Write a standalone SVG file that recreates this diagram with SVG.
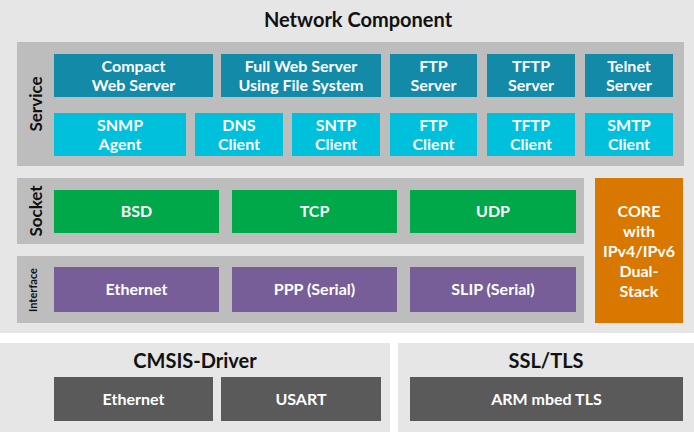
<svg xmlns="http://www.w3.org/2000/svg" width="694" height="432" viewBox="0 0 694 432">
<style>
text{font-family:Lato,"Open Sans",sans-serif;font-weight:bold;text-anchor:middle}
.w{fill:#fff;font-size:16px}
.h{fill:#111;font-size:20px}
.lab{fill:#111;font-size:17px}
.band{fill:#bdbdbd}
.dt{fill:#138aa8}.lt{fill:#00c0dc}.gr{fill:#00a84a}.pu{fill:#775e98}.dg{fill:#5a5a5a}
</style>
<rect width="694" height="432" fill="#fff"/>
<rect x="0" y="0" width="694" height="333" fill="#e6e6e6"/>
<rect x="0" y="343" width="390" height="89" fill="#e6e6e6"/>
<rect x="398" y="343" width="296" height="89" fill="#e6e6e6"/>
<text class="h" x="358" y="27">Network Component</text>
<g id="service">
<rect class="band" x="17" y="42" width="667" height="124"/>
<text class="lab" transform="translate(42,104) rotate(-90)">Service</text>
</g>
<g id="compact"><rect class="dt" x="54" y="54" width="159" height="43"/><text class="w" x="133.5" y="72">Compact</text><text class="w" x="133.5" y="91">Web Server</text></g>
<g id="fullweb"><rect class="dt" x="221" y="54" width="160" height="43"/><text class="w" x="301" y="72">Full Web Server</text><text class="w" x="301" y="91">Using File System</text></g>
<g id="ftpserver"><rect class="dt" x="390" y="54" width="87" height="43"/><text class="w" x="433.5" y="72">FTP</text><text class="w" x="433.5" y="91">Server</text></g>
<g id="tftpserver"><rect class="dt" x="487" y="54" width="88" height="43"/><text class="w" x="531" y="72">TFTP</text><text class="w" x="531" y="91">Server</text></g>
<g id="telnet"><rect class="dt" x="585" y="54" width="88" height="43"/><text class="w" x="629" y="72">Telnet</text><text class="w" x="629" y="91">Server</text></g>
<g id="snmp"><rect class="lt" x="54" y="113" width="132" height="43"/><text class="w" x="120" y="131">SNMP</text><text class="w" x="120" y="150">Agent</text></g>
<g id="dns"><rect class="lt" x="195" y="113" width="88" height="43"/><text class="w" x="239" y="131">DNS</text><text class="w" x="239" y="150">Client</text></g>
<g id="sntp"><rect class="lt" x="292" y="113" width="88" height="43"/><text class="w" x="336" y="131">SNTP</text><text class="w" x="336" y="150">Client</text></g>
<g id="ftpclient"><rect class="lt" x="390" y="113" width="87" height="43"/><text class="w" x="433.5" y="131">FTP</text><text class="w" x="433.5" y="150">Client</text></g>
<g id="tftpclient"><rect class="lt" x="487" y="113" width="88" height="43"/><text class="w" x="531" y="131">TFTP</text><text class="w" x="531" y="150">Client</text></g>
<g id="smtp"><rect class="lt" x="585" y="113" width="88" height="43"/><text class="w" x="629" y="131">SMTP</text><text class="w" x="629" y="150">Client</text></g>
<g id="socket">
<rect class="band" x="17" y="178" width="567" height="66"/>
<text class="lab" transform="translate(42,211) rotate(-90)">Socket</text>
</g>
<g id="bsd"><rect class="gr" x="54" y="190" width="165" height="43"/><text class="w" x="136.5" y="217">BSD</text></g>
<g id="tcp"><rect class="gr" x="232" y="190" width="165" height="43"/><text class="w" x="314.5" y="217">TCP</text></g>
<g id="udp"><rect class="gr" x="410" y="190" width="166" height="43"/><text class="w" x="493" y="217">UDP</text></g>
<g id="interface">
<rect class="band" x="17" y="256" width="567" height="67"/>
<text class="lab" style="font-size:11px" transform="translate(37,290) rotate(-90)">Interface</text>
</g>
<g id="eth"><rect class="pu" x="54" y="267" width="165" height="45"/><text class="w" x="136.5" y="295">Ethernet</text></g>
<g id="ppp"><rect class="pu" x="232" y="267" width="165" height="45"/><text class="w" x="314.5" y="295">PPP (Serial)</text></g>
<g id="slip"><rect class="pu" x="410" y="267" width="166" height="45"/><text class="w" x="493" y="295">SLIP (Serial)</text></g>
<g id="core"><rect x="595" y="178" width="88" height="145" fill="#d97800"/>
<text class="w" x="639" y="217">CORE</text><text class="w" x="639" y="237">with</text><text class="w" x="639" y="257">IPv4/IPv6</text><text class="w" x="639" y="277">Dual-</text><text class="w" x="639" y="297">Stack</text></g>
<g id="cmsis"><text class="h" x="195" y="368">CMSIS-Driver</text></g>
<g id="deth"><rect class="dg" x="54" y="377" width="159" height="44"/><text class="w" x="133.5" y="405">Ethernet</text></g>
<g id="usart"><rect class="dg" x="221" y="377" width="160" height="44"/><text class="w" x="301" y="405">USART</text></g>
<g id="ssl"><text class="h" x="546" y="368">SSL/TLS</text></g>
<g id="mbed"><rect class="dg" x="410" y="377" width="273" height="44"/><text class="w" x="546.5" y="405">ARM mbed TLS</text></g>
<g id="connectors"/>
</svg>
